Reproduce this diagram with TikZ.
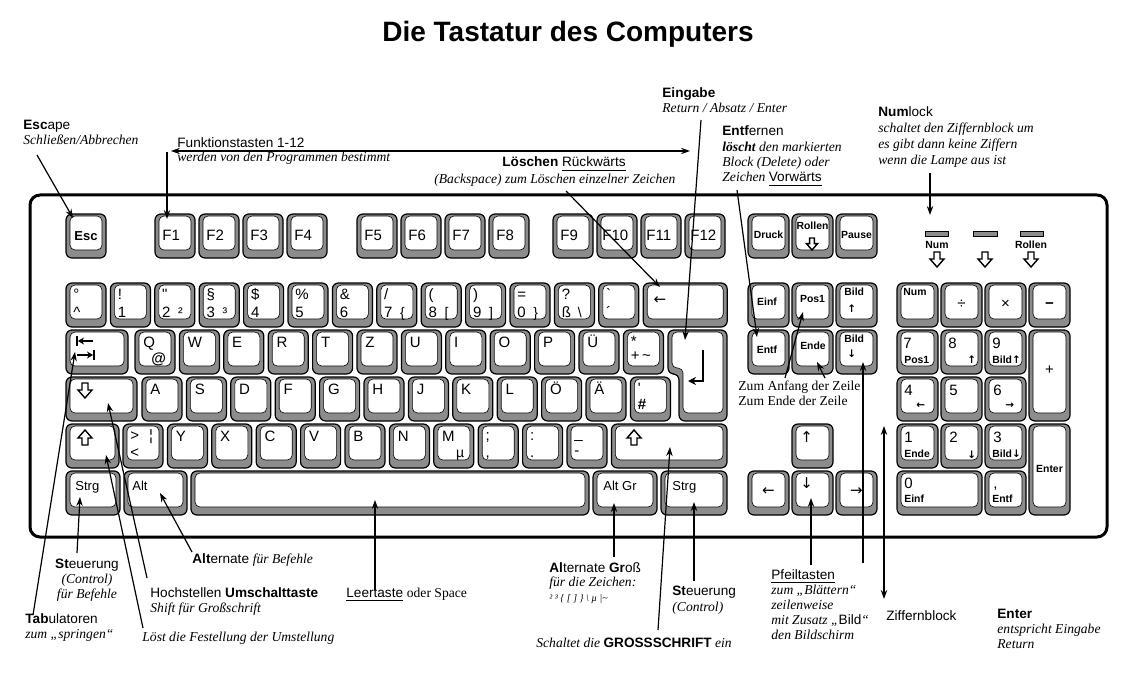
\documentclass[tikz,border=0pt]{standalone}
\usepackage{fontspec}
\setmainfont{Liberation Serif}
\setsansfont{Liberation Sans}
\newfontfamily\symfont{DejaVu Sans}
\usetikzlibrary{calc,arrows.meta}

\tikzset{
	keyrim/.style={draw=black, line width=0.6pt, fill=black!45, rounded corners=3pt},
	keyface/.style={draw=black, line width=0.3pt, fill=white, rounded corners=2.5pt},
	klbl/.style={inner sep=0pt, anchor=base west, font=\sffamily\fontsize{7.5}{8}\selectfont},
	kmid/.style={klbl, anchor=base},
	kalt/.style={inner sep=0pt, anchor=base west, font=\sffamily\fontsize{7}{8}\selectfont},
	ksml/.style={inner sep=0pt, anchor=base west, font=\sffamily\bfseries\fontsize{5.2}{6}\selectfont},
	ksmc/.style={ksml, anchor=base},
	ktxt/.style={inner sep=0pt, anchor=base west, font=\sffamily\fontsize{6.5}{7}\selectfont},
	note/.style={inner sep=0pt, anchor=base west, font=\sffamily\fontsize{6.8}{8}\selectfont},
	notei/.style={inner sep=0pt, anchor=base west, font=\rmfamily\itshape\fontsize{6.8}{8}\selectfont},
	noter/.style={inner sep=0pt, anchor=base west, font=\rmfamily\fontsize{6.8}{8}\selectfont},
	pointer/.style={line width=0.6pt, -{Stealth[length=4.5pt,width=3.2pt]}},
	twoway/.style={line width=0.6pt, {Stealth[length=4.5pt,width=3.2pt]}-{Stealth[length=4.5pt,width=3.2pt]}},
	symline/.style={line width=0.6pt},
}

% one key: name, x, y, width, height (pixel units, y downwards)
\newcommand\tkey[5]{%
	\draw[keyrim] (#2,#3) rectangle ++(#4,#5);
	\draw[keyface] ($(#2,#3)+(4,2)$) rectangle ($(#2,#3)+(#4,#5)+(-4,-8)$);
	\coordinate (#1) at (#2,#3);}
% legend on a key
\newcommand\kt[5][klbl]{\node[#1] (#2#3) at ($(#2)+(#4)$) {#5};}
% number row key and letter key
\newcommand\nkey[5]{\tkey{#1}{#2}{283}{40}{44}\kt{#1}{t}{7,16}{#3}\kt{#1}{b}{7,34}{#4}\kt[kalt]{#1}{r}{23,34}{#5}}
\newcommand\lkey[4]{\tkey{#1}{#2}{#3}{40}{44}\kt{#1}{t}{8,17}{#4}}
% open arrows (centre x, top y)
\newcommand\darr[3][1]{\draw[line width=0.7pt, fill=white, shift={(#2,#3)}, scale=#1] (-3,0) -- (3,0) -- (3,7) -- (7,7) -- (0,15) -- (-7,7) -- (-3,7) -- cycle;}
\newcommand\uarr[3][1]{\draw[line width=0.7pt, fill=white, shift={(#2,#3)}, scale=#1] (0,0) -- (7,8) -- (3,8) -- (3,15) -- (-3,15) -- (-3,8) -- (-7,8) -- cycle;}
\newcommand\arU{{\symfont ↑}}
\newcommand\arD{{\symfont ↓}}
\newcommand\arL{{\symfont ←}}
\newcommand\arR{{\symfont →}}

\begin{document}
\begin{tikzpicture}[x=0.5pt, y=-0.5pt]
			%%%%% START %%%%%
			\useasboundingbox (0,0) rectangle (1133,679);
			
			\node[inner sep=0pt, anchor=base, font=\sffamily\bfseries\fontsize{14}{16}\selectfont] (title) at (568,42) {Die Tastatur des Computers};
			
			\draw[line width=1.5pt, rounded corners=5pt] (30,195) rectangle (1107,537);
			
			% function row
			\tkey{esc}{66}{214}{40}{44}\kt[ksml]{esc}{t}{8,26}{\fontsize{6.5}{7}\selectfont Esc}
			\tkey{f1}{155}{214}{40}{44}\kt{f1}{t}{7,26}{F1}
			\tkey{f2}{199}{214}{40}{44}\kt{f2}{t}{7,26}{F2}
			\tkey{f3}{243}{214}{40}{44}\kt{f3}{t}{7,26}{F3}
			\tkey{f4}{287}{214}{40}{44}\kt{f4}{t}{7,26}{F4}
			\tkey{f5}{357}{214}{40}{44}\kt{f5}{t}{7,26}{F5}
			\tkey{f6}{401}{214}{40}{44}\kt{f6}{t}{7,26}{F6}
			\tkey{f7}{445}{214}{40}{44}\kt{f7}{t}{7,26}{F7}
			\tkey{f8}{489}{214}{40}{44}\kt{f8}{t}{7,26}{F8}
			\tkey{f9}{553}{214}{40}{44}\kt{f9}{t}{7,26}{F9}
			\tkey{f10}{597}{214}{40}{44}\kt{f10}{t}{5,26}{F10}
			\tkey{f11}{641}{214}{40}{44}\kt{f11}{t}{5,26}{F11}
			\tkey{f12}{685}{214}{40}{44}\kt{f12}{t}{5,26}{F12}
			
			% number row
			\nkey{n0}{66}{°}{\textasciicircum}{}
			\nkey{n1}{110.4}{!}{1}{}
			\nkey{n2}{154.8}{\textquotedbl}{2}{²}
			\nkey{n3}{199.2}{§}{3}{³}
			\nkey{n4}{243.6}{\$}{4}{}
			\nkey{n5}{288}{\%}{5}{}
			\nkey{n6}{332.4}{\&}{6}{}
			\nkey{n7}{376.8}{/}{7}{\{}
			\nkey{n8}{421.2}{(}{8}{[}
			\nkey{n9}{465.6}{)}{9}{]}
			\nkey{n10}{510}{=}{0}{\}}
			\nkey{n11}{554.4}{?}{ß}{\textbackslash}
			\nkey{n12}{598.8}{\textasciigrave}{´}{}
			\tkey{bsp}{643.2}{283}{84}{44}\kt{bsp}{t}{10,21}{\arL}
			
			% qwertz row
			\tkey{tab}{66}{330}{62}{44}
			\draw[symline] ($(tab)+(11,6)$) -- ($(tab)+(11,16)$);
			\draw[symline, -{Stealth[length=3pt,width=3.5pt]}] ($(tab)+(27,11)$) -- ($(tab)+(12,11)$);
			\draw[symline, -{Stealth[length=3pt,width=3.5pt]}] ($(tab)+(11,25)$) -- ($(tab)+(27,25)$);
			\draw[symline] ($(tab)+(28,20)$) -- ($(tab)+(28,30)$);
			\lkey{kq}{135}{330}{Q}\kt[kalt]{kq}{r}{16,33}{\fontsize{7.5}{8}\selectfont\textbf{@}}
			\lkey{kw}{179.4}{330}{W}
			\lkey{ke}{223.8}{330}{E}
			\lkey{kr}{268.2}{330}{R}
			\lkey{kt}{312.6}{330}{T}
			\lkey{kz}{357}{330}{Z}
			\lkey{ku}{401.4}{330}{U}
			\lkey{ki}{445.8}{330}{I}
			\lkey{ko}{490.2}{330}{O}
			\lkey{kp}{534.6}{330}{P}
			\lkey{kue}{579}{330}{Ü}
			\tkey{ast}{623.4}{330}{40}{44}\kt{ast}{t}{7,16}{*}\kt{ast}{b}{7,30}{+\,\textasciitilde}
			
			\draw[keyrim] (668,330) -- (727,330) -- (727,421) -- (679,421) -- (679,374) -- (668,374) -- cycle;
			\draw[keyface] (672,332) -- (723,332) -- (723,413) -- (683,413) -- (683,368) -- (672,368) -- cycle;
			\coordinate (ret) at (668,330);
			\draw[symline, -{Stealth[length=4pt,width=4pt]}] ($(ret)+(35,20)$) -- ($(ret)+(35,51)$) -- ($(ret)+(20,51)$);
			
			% asdf row
			\tkey{caps}{66}{377}{71}{44}\darr{85}{383}
			\lkey{ka}{142}{377}{A}
			\lkey{ks}{186.4}{377}{S}
			\lkey{kd}{230.8}{377}{D}
			\lkey{kf}{275.2}{377}{F}
			\lkey{kg}{319.6}{377}{G}
			\lkey{kh}{364}{377}{H}
			\lkey{kj}{408.4}{377}{J}
			\lkey{kk}{452.8}{377}{K}
			\lkey{kl}{497.2}{377}{L}
			\lkey{koe}{541.6}{377}{Ö}
			\lkey{kae}{586}{377}{Ä}
			\tkey{hash}{630.4}{377}{40}{44}\kt{hash}{t}{7,16}{\textquotesingle}\kt{hash}{b}{7,32}{\textbf{\#}}
			
			% yxcv row
			\tkey{shl}{66}{424}{53}{44}\uarr{85}{430}
			\tkey{lt}{123}{424}{40}{44}\kt{lt}{t}{7,16}{>\hspace{5pt}¦}\kt{lt}{b}{7,33}{<}
			\lkey{ky}{167.4}{424}{Y}
			\lkey{kx}{211.8}{424}{X}
			\lkey{kc}{256.2}{424}{C}
			\lkey{kv}{300.6}{424}{V}
			\lkey{kb}{345}{424}{B}
			\lkey{kn}{389.4}{424}{N}
			\lkey{km}{433.8}{424}{M}\kt[kalt]{km}{r}{22,33}{µ}
			\tkey{semi}{478.2}{424}{40}{44}\kt{semi}{t}{7,16}{;}\kt{semi}{b}{7,33}{,}
			\tkey{colon}{522.6}{424}{40}{44}\kt{colon}{t}{7,16}{:}\kt{colon}{b}{7,33}{.}
			\tkey{minus}{567}{424}{40}{44}\kt{minus}{t}{7,14}{\_}\kt{minus}{b}{7,31}{-}
			\tkey{shr}{611.4}{424}{115.6}{44}\uarr{634}{430}
			
			% bottom row
			\tkey{ctl}{66}{471}{54}{44}\kt[ktxt]{ctl}{t}{9,19}{Strg}
			\tkey{lalt}{124}{471}{63}{44}\kt[ktxt]{lalt}{t}{8,19}{Alt}
			\tkey{space}{191}{471}{398}{44}
			\tkey{altgr}{593}{471}{64}{44}\kt[ktxt]{altgr}{t}{10,19}{Alt Gr}
			\tkey{ctr}{661}{471}{66}{44}\kt[ktxt]{ctr}{t}{11,19}{Strg}
			
			% control block
			\tkey{druck}{748}{214}{41}{44}\kt[ksmc]{druck}{t}{20.5,24}{Druck}
			\tkey{roll}{792}{214}{41}{44}\kt[ksmc]{roll}{t}{20.5,15}{Rollen}\darr[0.8]{812}{238}
			\tkey{pause}{836}{214}{41}{44}\kt[ksmc]{pause}{t}{20.5,24}{Pause}
			\tkey{einf}{748}{283}{41}{44}\kt[ksmc]{einf}{t}{19,22}{Einf}
			\tkey{pos}{792}{283}{41}{44}\kt[ksmc]{pos}{t}{20.5,19}{Pos1}
			\tkey{bup}{836}{283}{41}{44}\kt[ksml]{bup}{t}{8,12}{Bild}\kt[ksml]{bup}{b}{11,29}{\arU}
			\tkey{entf}{748}{330}{41}{44}\kt[ksmc]{entf}{t}{19,23}{Entf}
			\tkey{ende}{792}{330}{41}{44}\kt[ksmc]{ende}{t}{21,19}{Ende}
			\tkey{bdn}{836}{330}{41}{44}\kt[ksml]{bdn}{t}{8,12}{Bild}\kt[ksml]{bdn}{b}{11,27}{\arD}
			\tkey{aup}{792}{424}{41}{44}\kt{aup}{t}{8,18}{\arU}
			\tkey{aleft}{748}{471}{41}{44}\kt[kmid]{aleft}{t}{20.5,24}{\arL}
			\tkey{adown}{792}{471}{41}{44}\kt{adown}{t}{8,17}{\arD}
			\tkey{aright}{836}{471}{41}{44}\kt[kmid]{aright}{t}{20.5,24}{\arR}
			
			% lamps
			\draw[fill=black!45, line width=0.4pt] (925,231) rectangle (948,236);
			\draw[fill=black!45, line width=0.4pt] (973,231) rectangle (997,236);
			\draw[fill=black!45, line width=0.4pt] (1020,231) rectangle (1043,236);
			\node[ksmc] (lampnum) at (937,248) {Num};
			\node[ksmc] (lamproll) at (1031,248) {Rollen};
			\darr{937}{252}
			\darr{985}{252}
			\darr{1031}{252}
			
			% number block
			\tkey{num}{897}{283}{41}{44}\kt[ksml]{num}{t}{6,12}{Num}
			\tkey{div}{941}{283}{41}{44}\kt[kmid]{div}{t}{20.5,25}{÷}
			\tkey{mul}{985}{283}{41}{44}\kt[kmid]{mul}{t}{20.5,25}{×}
			\tkey{sub}{1029}{283}{41}{44}\kt[kmid]{sub}{t}{20.5,25}{\textbf{−}}
			\tkey{p7}{897}{330}{41}{44}\kt{p7}{t}{6,18}{7}\kt[ksml]{p7}{b}{7,33}{Pos1}
			\tkey{p8}{941}{330}{41}{44}\kt{p8}{t}{7,18}{8}\kt[ksml]{p8}{b}{26,33}{\arU}
			\tkey{p9}{985}{330}{41}{44}\kt{p9}{t}{7,18}{9}\kt[ksml]{p9}{b}{7,33}{Bild\arU}
			\tkey{padd}{1029}{330}{41}{91}\kt[kmid]{padd}{t}{20.5,44}{+}
			\tkey{p4}{897}{377}{41}{44}\kt{p4}{t}{7,18}{4}\kt[ksml]{p4}{b}{19,31}{\arL}
			\tkey{p5}{941}{377}{41}{44}\kt{p5}{t}{8,18}{5}
			\tkey{p6}{985}{377}{41}{44}\kt{p6}{t}{8,18}{6}\kt[ksml]{p6}{b}{20,31}{\arR}
			\tkey{p1}{897}{424}{41}{44}\kt{p1}{t}{7,18}{1}\kt[ksml]{p1}{b}{7,33}{Ende}
			\tkey{p2}{941}{424}{41}{44}\kt{p2}{t}{8,18}{2}\kt[ksml]{p2}{b}{26,34}{\arD}
			\tkey{p3}{985}{424}{41}{44}\kt{p3}{t}{8,18}{3}\kt[ksml]{p3}{b}{7,33}{Bild\arD}
			\tkey{pent}{1029}{424}{41}{91}\kt[ksmc]{pent}{t}{20.5,48}{Enter}
			\tkey{p0}{897}{471}{85}{44}\kt{p0}{t}{7,17}{0}\kt[ksml]{p0}{b}{7,31}{Einf}
			\tkey{pdot}{985}{471}{41}{44}\kt{pdot}{t}{8,17}{,}\kt[ksml]{pdot}{b}{7,31}{Entf}
			
			% notes above
			\node[note] (escn) at (23,130) {\textbf{Esc}ape};
			\node[notei] (escd) at (23,145) {Schließen/Abbrechen};
			\node[note] (fktn) at (177,148) {Funktionstasten 1-12};
			\node[notei] (fktd) at (177,162) {werden von den Programmen bestimmt};
			\node[note] (bspn) at (502,167) {\textbf{Löschen} \underline{Rückwärts}};
			\node[notei] (bspd) at (434,184) {(Backspace) zum Löschen einzelner Zeichen};
			\node[note] (retn) at (662,98) {\textbf{Eingabe}};
			\node[notei] (retd) at (662,113) {Return / Absatz / Enter};
			\node[note] (entn) at (722,136) {\textbf{Entf}ernen};
			\node[notei] (entd) at (722,152) {\textbf{löscht} den markierten};
			\node[notei] (ente) at (722,167) {Block (Delete) oder};
			\node[notei] (entf) at (722,182) {Zeichen {\sffamily\upshape\underline{Vorwärts}}};
			\node[note] (numn) at (878,117) {\textbf{Num}lock};
			\node[notei] (numd) at (878,133) {schaltet den Ziffernblock um};
			\node[notei] (nume) at (878,149) {es gibt dann keine Ziffern};
			\node[notei] (numf) at (878,165) {wenn die Lampe aus ist};
			\node[noter] (zanf) at (738,390) {Zum Anfang der Zeile};
			\node[noter] (zend) at (738,405) {Zum Ende der Zeile};
			
			% notes below
			\node[note, anchor=base] (stln) at (87,568) {\textbf{St}euerung};
			\node[notei, anchor=base] (stld) at (87,583) {(Control)};
			\node[notei, anchor=base] (stle) at (87,598) {für Befehle};
			\node[note] (tabn) at (25,623) {\textbf{Tab}ulatoren};
			\node[notei] (tabd) at (25,638) {zum „springen“};
			\node[note] (altn) at (192,563) {\textbf{Alt}ernate {\rmfamily\itshape für Befehle}};
			\node[note] (shn) at (150,597) {Hochstellen \textbf{Umschalttaste}};
			\node[notei] (shd) at (150,612) {Shift für Großschrift};
			\node[notei] (lock) at (142,641) {Löst die Festellung der Umstellung};
			\node[note] (leer) at (346,597) {\underline{Leertaste} {\rmfamily oder Space}};
			\node[note] (agn) at (549,572) {\textbf{Al}ternate \textbf{Gr}oß};
			\node[notei] (agd) at (549,586) {für die Zeichen:};
			\node[notei] (age) at (549,601) {\fontsize{5}{6}\selectfont ² ³ \{ [ ] \} \textbackslash\ µ \textbar\textasciitilde};
			\node[note] (strn) at (672,595) {\textbf{St}euerung};
			\node[notei] (strd) at (672,611) {(Control)};
			\node[notei] (caps) at (536,647) {Schaltet die {\sffamily\upshape\bfseries GROSSSCHRIFT} ein};
			\node[note] (pfn) at (771,579) {\underline{Pfeiltasten}};
			\node[notei] (pfd) at (771,594) {zum „Blättern“};
			\node[notei] (pfe) at (771,609) {zeilenweise};
			\node[notei] (pff) at (771,624) {mit Zusatz „{\sffamily\upshape Bild}“};
			\node[notei] (pfg) at (771,639) {den Bildschirm};
			\node[note] (zbn) at (886,620) {Ziffernblock};
			\node[note] (entr) at (997,618) {\textbf{Enter}};
			\node[notei] (entrd) at (997,633) {entspricht Eingabe};
			\node[notei] (entre) at (997,648) {Return};
			
			% pointer ends
			\coordinate (escA) at (37,155);   \coordinate (escB) at (73,218);
			\coordinate (fkA) at (171,151);   \coordinate (fkB) at (690,151);
			\coordinate (f1A) at (167,152);   \coordinate (f1B) at (167,219);
			\coordinate (bsA) at (566,191);   \coordinate (bsB) at (660,287);
			\coordinate (rtA) at (701,120);   \coordinate (rtB) at (685,340);
			\coordinate (enA) at (737,190);   \coordinate (enB) at (757,337);
			\coordinate (nlA) at (930,173);   \coordinate (nlB) at (930,215);
			\coordinate (anA) at (785,378);   \coordinate (anB) at (803,312);
			\coordinate (edA) at (825,378);   \coordinate (edB) at (817,362);
			\coordinate (bdA) at (863,563);   \coordinate (bdB) at (863,362);
			\coordinate (pfA) at (811,565);   \coordinate (pfB) at (811,498);
			\coordinate (zbA) at (884,426);   \coordinate (zbB) at (884,599);
			\coordinate (tbA) at (33,615);    \coordinate (tbB) at (75,352);
			\coordinate (slA) at (77,553);    \coordinate (slB) at (80,497);
			\coordinate (alA) at (192,552);   \coordinate (alB) at (160,493);
			\coordinate (hsA) at (147,578);   \coordinate (hsB) at (108,403);
			\coordinate (lsA) at (143,628);   \coordinate (lsB) at (106,455);
			\coordinate (spA) at (375,590);   \coordinate (spB) at (375,500);
			\coordinate (agA) at (614,557);   \coordinate (agB) at (614,503);
			\coordinate (srA) at (694,581);   \coordinate (srB) at (694,502);
			\coordinate (gsA) at (658,630);   \coordinate (gsB) at (670,447);
			
			\draw[pointer] (escA) -- (escB);
			\draw[twoway] (fkA) -- (fkB);
			\draw[pointer] (f1A) -- (f1B);
			\draw[pointer] (bsA) -- (bsB);
			\draw[pointer] (rtA) -- (rtB);
			\draw[pointer] (enA) -- (enB);
			\draw[pointer] (nlA) -- (nlB);
			\draw[pointer] (anA) -- (anB);
			\draw[pointer] (edA) -- (edB);
			\draw[pointer] (bdA) -- (bdB);
			\draw[pointer] (pfA) -- (pfB);
			\draw[twoway] (zbA) -- (zbB);
			\draw[pointer] (tbA) -- (tbB);
			\draw[pointer] (slA) -- (slB);
			\draw[pointer] (alA) -- (alB);
			\draw[pointer] (hsA) -- (hsB);
			\draw[pointer] (lsA) -- (lsB);
			\draw[pointer] (spA) -- (spB);
			\draw[pointer] (agA) -- (agB);
			\draw[pointer] (srA) -- (srB);
			\draw[pointer] (gsA) -- (gsB);
			
			%%%%% END %%%%%
\end{tikzpicture}
\end{document}
